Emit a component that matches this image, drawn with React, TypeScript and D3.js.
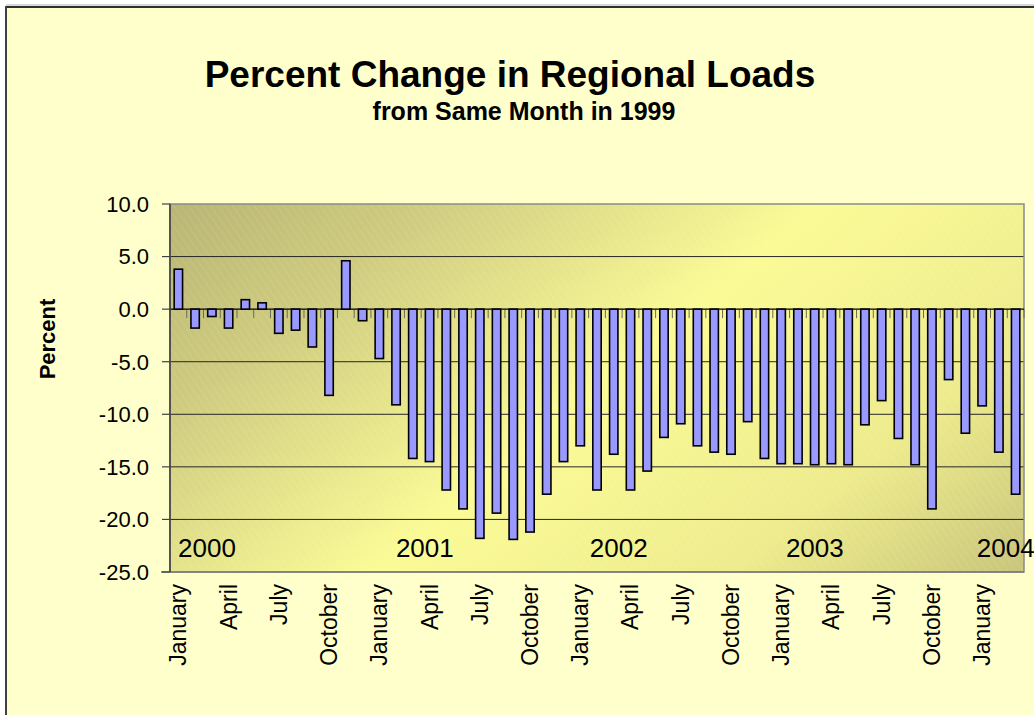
import React from "react";
import * as d3 from "d3";

const MONTH_NAMES = [
  "January", "February", "March", "April", "May", "June",
  "July", "August", "September", "October", "November", "December",
];

const values2000 = [3.8, -1.8, -0.7, -1.8, 0.9, 0.6, -2.3, -2.0, -3.6, -8.2, 4.6, -1.1];
const values2001 = [-4.7, -9.1, -14.2, -14.5, -17.2, -19.0, -21.8, -19.4, -21.9, -21.2, -17.6, -14.5];
const values2002 = [-13.0, -17.2, -13.8, -17.2, -15.4, -12.2, -10.9, -13.0, -13.6, -13.8, -10.7, -14.2];
const values2003 = [-14.7, -14.7, -14.8, -14.7, -14.8, -11.0, -8.7, -12.3, -14.8, -19.0, -6.7, -11.8];
const values2004 = [-9.2, -13.6, -17.6];

const percentValues = [...values2000, ...values2001, ...values2002, ...values2003, ...values2004];
const categories = percentValues.map((_, i) => MONTH_NAMES[i % 12]);

const yTicks = [10, 5, 0, -5, -10, -15, -20, -25];
const yearLabels = ["2000", "2001", "2002", "2003", "2004"];
const yearLabelSlots = [0.48, 13.49, 25.07, 36.78, 48.18];

const TITLE = "Percent Change in Regional Loads";
const SUBTITLE = "from Same Month in 1999";
const Y_TITLE = "Percent";

const W = 1034;
const H = 715;
const PL = 170, PR = 1024, PT = 204, PB = 572;
const FONT = "'Liberation Sans', Arial, Helvetica, sans-serif";

export default function App() {
  const idx = categories.map((_, i) => i);
  const x = d3.scaleBand<number>().domain(idx).range([PL, PR]).paddingInner(0.5).paddingOuter(0.25);
  const step = (PR - PL) / categories.length;
  const xSlot = d3.scaleLinear().domain([0, categories.length]).range([PL, PR]);
  const y = d3.scaleLinear().domain([-25, 10]).range([PB, PT]);
  const y0 = y(0);

  return (
    <svg
      width={W}
      height={H}
      viewBox={`0 0 ${W} ${H}`}
      style={{ position: "absolute", left: 0, top: 0, display: "block" }}
      fontFamily={FONT}
    >
      <defs>
        <linearGradient id="plotGrad" gradientUnits="userSpaceOnUse" x1={336} y1={69} x2={858} y2={707}>
          <stop offset="0" stopColor="#B9B574" />
          <stop offset="0.2" stopColor="#CFCC80" />
          <stop offset="0.5" stopColor="#FBFB96" />
          <stop offset="0.78" stopColor="#EDEB8C" />
          <stop offset="1" stopColor="#C9C57B" />
        </linearGradient>
        <pattern id="hatch" width="6" height="6" patternUnits="userSpaceOnUse" patternTransform="rotate(-35)">
          <line x1="0" y1="0" x2="0" y2="6" stroke="#ffffff" strokeWidth="1" strokeOpacity="0.18" />
        </pattern>
      </defs>

      <rect x={0} y={0} width={W} height={H} fill="#ffffff" />
      <rect x={6} y={7} width={W - 6} height={H - 7} fill="#FFFFCC" />
      <line x1={6} y1={5} x2={W} y2={5} stroke="#b0b0b0" strokeWidth={1} />
      <line x1={5} y1={7} x2={W} y2={7} stroke="#303030" strokeWidth={2} />
      <line x1={6} y1={6} x2={6} y2={H} stroke="#404040" strokeWidth={2} />

      <text x={510} y={87} textAnchor="middle" fontWeight="bold" fontSize={37} fill="#000">
        {TITLE}
      </text>
      <text x={524} y={120} textAnchor="middle" fontWeight="bold" fontSize={25} fill="#000">
        {SUBTITLE}
      </text>

      {/* plot area */}
      <rect x={PL} y={PT} width={PR - PL} height={PB - PT} fill="url(#plotGrad)" />
      <rect x={PL} y={PT} width={PR - PL} height={PB - PT} fill="url(#hatch)" />

      {yTicks.filter((t) => t !== 10 && t !== -25 && t !== 0).map((t) => (
        <line key={t} x1={PL} x2={PR} y1={y(t)} y2={y(t)} stroke="#262626" strokeWidth={1} />
      ))}

      <rect x={PL} y={PT} width={PR - PL} height={PB - PT} fill="none" stroke="#8a8a8a" strokeWidth={1.5} />
      <line x1={PL - 9} x2={PR} y1={PB} y2={PB} stroke="#7a7a7a" strokeWidth={1.5} />

      {/* category axis ticks at zero */}
      {d3.range(categories.length + 1).map((i) => (
        <line key={i} x1={PL + i * step} x2={PL + i * step} y1={y0} y2={y0 + 9} stroke="#6a6a5a" strokeWidth={1} />
      ))}
      <line x1={PL} x2={PR} y1={y0} y2={y0} stroke="#000" strokeWidth={1.2} />

      {/* bars */}
      {percentValues.map((v, i) => (
        <rect
          key={i}
          x={x(i)!}
          y={Math.min(y(v), y0)}
          width={x.bandwidth()}
          height={Math.abs(y(v) - y0)}
          fill="#9999FF"
          stroke="#000"
          strokeWidth={1.6}
        />
      ))}

      {/* value axis */}
      <line x1={PL} x2={PL} y1={PT} y2={PB} stroke="#404040" strokeWidth={1.6} />
      {yTicks.map((t) => (
        <g key={t}>
          <line x1={PL - 8} x2={PL} y1={y(t)} y2={y(t)} stroke="#404040" strokeWidth={1.2} />
          <text x={149} y={y(t)} dy="0.36em" textAnchor="end" fontSize={22} fill="#000">
            {t.toFixed(1)}
          </text>
        </g>
      ))}

      <text
        transform={`translate(55,339) rotate(-90)`}
        textAnchor="middle"
        fontWeight="bold"
        fontSize={22}
        fill="#000"
      >
        {Y_TITLE}
      </text>

      {/* year labels */}
      {yearLabels.map((lab, k) => (
        <text key={lab} x={xSlot(yearLabelSlots[k])} y={557} fontSize={26} fill="#000">
          {lab}
        </text>
      ))}

      {/* month labels */}
      {categories.map((c, i) =>
        i % 3 === 0 ? (
          <text
            key={i}
            transform={`translate(${x(i)! + x.bandwidth() / 2 + 8},${584}) rotate(-90)`}
            textAnchor="end"
            fontSize={23}
            fill="#000"
          >
            {c}
          </text>
        ) : null
      )}
    </svg>
  );
}
